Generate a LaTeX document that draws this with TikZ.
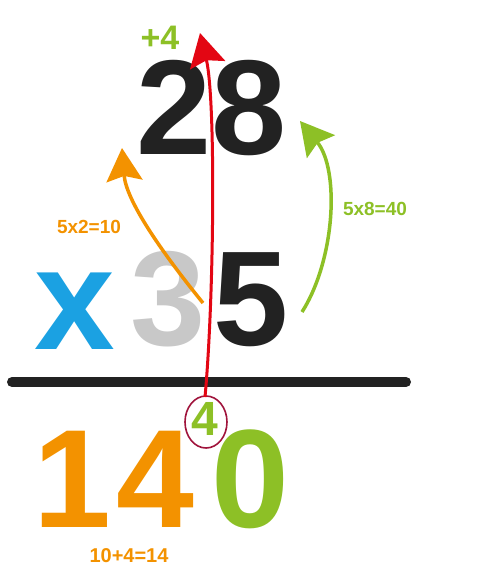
\documentclass[tikz,border=0pt]{standalone}
\usepackage{fontspec}
\setmainfont{Liberation Sans}
\usepackage{tikz}
\usetikzlibrary{arrows.meta}

\definecolor{numorange}{HTML}{F39200}
\definecolor{numgreen}{HTML}{8DC026}
\definecolor{numblue}{HTML}{1BA1E2}
\definecolor{numgray}{HTML}{C8C8C8}
\definecolor{numblack}{HTML}{222222}
\definecolor{numred}{HTML}{E30613}
\definecolor{ringred}{HTML}{A0143C}

\tikzset{
  bigdigit/.style={inner sep=0pt, font=\fontsize{135}{135}\selectfont\bfseries},
  smalltext/.style={inner sep=0pt, font=\fontsize{19}{19}\selectfont\bfseries},
  carryarrow/.style={line width=3.5pt, -{Stealth[length=33pt, width=36pt, inset=5pt]}}
}

\begin{document}
\begin{tikzpicture}[x=1pt, y=-1pt]
        \useasboundingbox (0,0) rectangle (479,571);

        % Top factor
        \node[bigdigit, numblack] (top) at (212,108) {28};
        \node[inner sep=0pt, numgreen, font=\fontsize{34}{34}\selectfont\bfseries] (carry) at (160,38) {+4};

        % Bottom factor
        \node[bigdigit, numblue, font=\fontsize{145}{145}\selectfont\bfseries] (times) at (75,311) {x};
        \node[bigdigit, numgray] (three) at (168,299) {3};
        \node[bigdigit, numblack] (five) at (251,300) {5};

        % Rule
        \coordinate (ruleL) at (12,382);
        \coordinate (ruleR) at (406,382);
        \draw[numblack, line width=10pt, line cap=round] (ruleL) -- (ruleR);

        % Result
        \node[bigdigit, numorange, font=\fontsize{140}{140}\selectfont\bfseries] (one) at (72,479) {1};
        \node[bigdigit, numorange, font=\fontsize{140}{140}\selectfont\bfseries] (four) at (155,479) {4};
        \node[bigdigit, numgreen, font=\fontsize{140}{140}\selectfont\bfseries] (zero) at (250,479) {0};

        % Carried 4 in a ring
        \node[inner sep=0pt, numgreen, font=\fontsize{48}{48}\selectfont\bfseries] (kept) at (205,419) {4};
        \draw[ringred, line width=1.6pt] (206,422) ellipse (21 and 26);

        % Labels
        \node[smalltext, numorange] (lblA) at (89,227) {5x2=10};
        \node[smalltext, numgreen] (lblB) at (375,209) {5x8=40};
        \node[smalltext, numorange, font=\fontsize{20}{20}\selectfont\bfseries] (lblC) at (129,556) {10+4=14};

        % Arrows
        \coordinate (oS) at (203,303);
        \coordinate (oE) at (122,148);
        \coordinate (gS) at (302,312);
        \coordinate (gE) at (300,121);
        \coordinate (rS) at (205,397);
        \coordinate (rE) at (200,33);
        \draw[carryarrow, numorange] (oS) .. controls (160,250) and (126,200) .. (oE);
        \draw[carryarrow, numgreen] (gS) .. controls (335,260) and (340,170) .. (gE);
        \draw[carryarrow, numred, line width=3pt] (rS) .. controls (214,300) and (216,100) .. (rE);
\end{tikzpicture}
\end{document}
